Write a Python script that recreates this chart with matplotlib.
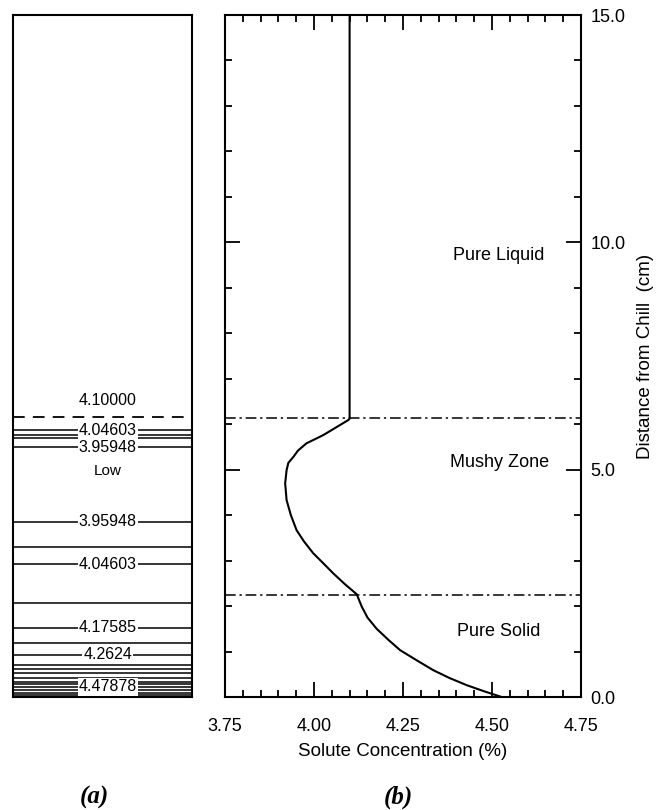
import matplotlib
matplotlib.use("Agg")
import matplotlib.pyplot as plt
from matplotlib.ticker import MultipleLocator

plt.rcParams["font.family"] = ["Liberation Sans", "DejaVu Sans"]

# (b) concentration profile
CONC = [4.10, 4.10, 4.096, 4.06, 4.026, 3.979, 3.955, 3.942, 3.928, 3.923,
        3.919, 3.923, 3.935, 3.951, 3.972, 3.998, 4.025, 4.054, 4.087, 4.120,
        4.134, 4.150, 4.176, 4.210, 4.242, 4.290, 4.335, 4.380, 4.429, 4.480,
        4.527]
DIST = [15.0, 6.12, 6.09, 5.92, 5.76, 5.58, 5.42, 5.28, 5.15, 4.99,
        4.70, 4.33, 4.00, 3.67, 3.42, 3.16, 2.95, 2.72, 2.48, 2.26,
        1.99, 1.75, 1.50, 1.25, 1.03, 0.80, 0.59, 0.42, 0.26, 0.12,
        0.0]
LIQUIDUS = 6.14
SOLIDUS = 2.25
ZONE_NAMES = ["Pure Liquid", "Mushy Zone", "Pure Solid"]
ZONE_Y = [9.72, 5.15, 1.43]

# (a) isoconcentration lines
ISO_Y = [5.87, 5.77, 5.69, 5.49, 3.85, 3.30, 2.92, 2.07, 1.52, 1.18, 0.93,
         0.70, 0.62, 0.53, 0.42, 0.33, 0.29, 0.22, 0.15, 0.09, 0.04]
ISO_LABELS = ["4.04603", "", "", "3.95948", "3.95948", "", "4.04603", "",
              "4.17585", "", "4.2624", "", "", "", "", "", "", "4.47878",
              "", "", ""]
DASHED_Y = 6.16
DASHED_LABEL = "4.10000"

fig = plt.figure(figsize=(6.56, 8.10), dpi=100)

# ---- panel (a)
axa = fig.add_axes([13 / 656, 1 - 697 / 810, 179 / 656, 682 / 810])
axa.set_xlim(0, 1)
axa.set_ylim(0, 15)
axa.set_xticks([])
axa.set_yticks([])
for sp in axa.spines.values():
    sp.set_linewidth(1.5)
axa.axhline(DASHED_Y, color="black", lw=1.3, ls=(0, (6.5, 4.5)))
axa.text(0.53, DASHED_Y + 0.37, DASHED_LABEL, ha="center", va="center", fontsize=11.5)
for y, lab in zip(ISO_Y, ISO_LABELS):
    axa.axhline(y, color="black", lw=1.1)
    if lab:
        axa.text(0.53, y, lab, ha="center", va="center", fontsize=11.5,
                 bbox=dict(facecolor="white", edgecolor="none", pad=0.8))
axa.text(0.53, 4.96, "Low", ha="center", va="center", fontsize=11)

# ---- panel (b)
axb = fig.add_axes([225 / 656, 1 - 697 / 810, 356 / 656, 682 / 810])
axb.plot(CONC, DIST, color="black", lw=1.5)
for y in (LIQUIDUS, SOLIDUS):
    axb.axhline(y, color="black", lw=1.1, ls=(0, (7, 2.5, 1.5, 2.5)))
for name, y in zip(ZONE_NAMES, ZONE_Y):
    axb.text(4.52, y, name, ha="center", va="center", fontsize=13)

axb.set_xlim(3.75, 4.75)
axb.set_ylim(0, 15)
axb.xaxis.set_major_locator(MultipleLocator(0.25))
axb.xaxis.set_minor_locator(MultipleLocator(0.05))
axb.yaxis.set_major_locator(MultipleLocator(5))
axb.yaxis.set_minor_locator(MultipleLocator(1))
axb.xaxis.set_major_formatter(plt.FormatStrFormatter("%.2f"))
axb.yaxis.set_major_formatter(plt.FormatStrFormatter("%.1f"))
axb.tick_params(which="both", direction="in", top=True, bottom=True,
                left=True, right=True, labelleft=False, labelright=True,
                width=1.3)
axb.tick_params(which="major", length=11)
axb.tick_params(which="minor", length=5)
axb.tick_params(axis="x", which="major", labelsize=13, pad=15)
axb.tick_params(axis="y", which="major", labelsize=13, pad=7)
for sp in axb.spines.values():
    sp.set_linewidth(1.5)

axb.set_xlabel("Solute Concentration (%)", fontsize=13.5)
axb.xaxis.set_label_coords(0.5, -0.068)
axb.yaxis.set_label_position("right")
axb.set_ylabel("Distance from Chill  (cm)", fontsize=13.5)
axb.yaxis.set_label_coords(1.157, 0.5)

fig.text(94 / 656, 1 - 797 / 810, "(a)", ha="center", va="center", fontsize=18,
         family="Liberation Serif", style="italic", weight="bold")
fig.text(398 / 656, 1 - 797 / 810, "(b)", ha="center", va="center", fontsize=18,
         family="Liberation Serif", style="italic", weight="bold")

fig.savefig("out.png", dpi=100)
